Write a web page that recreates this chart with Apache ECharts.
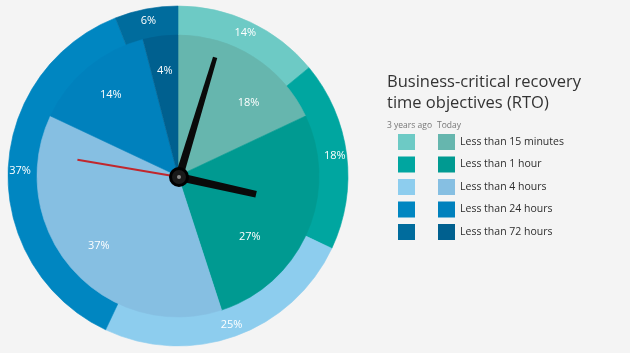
<!DOCTYPE html>
<html>
<head>
<meta charset="utf-8">
<script src="https://cdn.jsdelivr.net/npm/echarts@6/dist/echarts.min.js"></script>
<style>
  html, body { margin: 0; padding: 0; background: #f4f4f4; }
  #chart { width: 630px; height: 353px; }
</style>
</head>
<body>
<div id="chart"></div>
<script>
// RTO categories
const categories = ['Less than 15 minutes', 'Less than 1 hour', 'Less than 4 hours', 'Less than 24 hours', 'Less than 72 hours'];
// outer ring = 3 years ago, inner pie = today (percent)
const threeYearsAgo = [14, 18, 25, 37, 6];
const today = [18, 27, 37, 14, 4];
const outerColors = ['#6dcac5', '#00a6a0', '#8dcdee', '#0086c1', '#006c9d'];
const innerColors = ['#66b6ae', '#009a91', '#86bfe2', '#0081bd', '#00608f'];
// clock hands, position on a 60 step dial
const handValues = { second: 46.6, minute: 2.8, hour: 17.1 };

const chart = echarts.init(document.getElementById('chart'));
const center = [178, 176];

const oldNames = categories.map(c => c + ' (3 years ago)');
// the two right hand labels are nudged away from the clock hands, as in the original
const innerLabelNudge = [[14, 16], [-25, 19], null, null, null];

function hand(value, length, width, color, icon) {
  return {
    type: 'gauge',
    z: 10,
    center: [179, 177],
    radius: 141,
    startAngle: 90,
    endAngle: -270,
    min: 0,
    max: 60,
    axisLine: { show: false },
    axisTick: { show: false },
    splitLine: { show: false },
    axisLabel: { show: false },
    title: { show: false },
    detail: { show: false },
    pointer: { icon: icon, length: length, width: width, itemStyle: { color: color } },
    data: [{ value: value }],
  };
}

const labelStyle = { color: '#fff', fontSize: 11, fontFamily: 'Open Sans' };

function slice(name, value, color) {
  // border in the slice colour closes the anti-aliasing seams
  return { name: name, value: value, itemStyle: { color: color, borderColor: color, borderWidth: 0.6 } };
}

const series = [
  {
    type: 'pie',
    name: '3 years ago',
    center: center,
    radius: [140, 170],
    startAngle: 90,
    label: Object.assign({ position: 'inside', formatter: '{c}%' }, labelStyle),
    labelLine: { show: false },
    data: threeYearsAgo.map((v, i) => slice(oldNames[i], v, outerColors[i])),
  },
  {
    type: 'pie',
    name: 'Today',
    center: center,
    radius: [0, 141],
    startAngle: 90,
    label: { show: false },
    labelLine: { show: false },
    data: today.map((v, i) => slice(categories[i], v, innerColors[i])),
  },
  {
    // transparent ring only to place the inner labels further out
    type: 'pie',
    name: 'Today labels',
    center: center,
    radius: [64, 141],
    startAngle: 90,
    itemStyle: { color: 'rgba(0,0,0,0)', borderWidth: 0 },
    label: Object.assign({ position: 'inside', formatter: '{c}%' }, labelStyle),
    labelLine: { show: false },
    data: today.map((v, i) => {
      const item = { name: categories[i], value: v };
      if (innerLabelNudge[i]) item.label = { offset: innerLabelNudge[i] };
      return item;
    }),
  },
  hand(handValues.second, 103, 2, '#c1272d', 'rect'),
  hand(handValues.minute, 125, 8, '#0a0a0a', 'path://M1.8,0 L6.2,0 L8,100 L0,100 Z'),
  hand(handValues.hour, 79, 8, '#0a0a0a', 'path://M0.6,0 L7.4,0 L8,100 L0,100 Z'),
];
// hub
const hub = hand(0, 1, 1, 'rgba(0,0,0,0)', 'rect');
hub.anchor = { show: true, showAbove: true, size: 17, itemStyle: { color: '#1a1a1a', borderColor: '#000', borderWidth: 3 } };
series.push(hub);
const dot = hand(0, 1, 1, 'rgba(0,0,0,0)', 'rect');
dot.anchor = { show: true, showAbove: true, size: 4, itemStyle: { color: '#8a8a8a' } };
series.push(dot);

const legendBase = {
  orient: 'vertical',
  top: 134,
  padding: 0,
  icon: 'rect',
  itemWidth: 17,
  itemHeight: 16,
  itemGap: 6.5,
  itemStyle: { borderWidth: 0 },
  selectedMode: false,
};

const option = {
  backgroundColor: '#f4f4f4',
  animation: false,
  title: [
    {
      text: 'Business-critical recovery\ntime objectives (RTO)',
      left: 382,
      top: 67,
      textStyle: { fontFamily: 'Open Sans', fontSize: 16.5, fontWeight: 'normal', color: '#333', lineHeight: 21 },
    },
    {
      text: '3 years ago',
      left: 382,
      top: 116,
      textStyle: { fontFamily: 'Open Sans', fontSize: 8.5, fontWeight: 'normal', color: '#777' },
    },
    {
      text: 'Today',
      left: 432,
      top: 116,
      textStyle: { fontFamily: 'Open Sans', fontSize: 8.5, fontWeight: 'normal', color: '#777' },
    },
  ],
  legend: [
    Object.assign({}, legendBase, {
      data: oldNames,
      left: 398,
      formatter: () => '',
    }),
    Object.assign({}, legendBase, {
      data: categories,
      left: 438,
      textStyle: { fontFamily: 'Open Sans', fontSize: 10.5, color: '#2e2e2e' },
    }),
  ],
  series: series,
};

chart.setOption(option);
</script>
</body>
</html>
